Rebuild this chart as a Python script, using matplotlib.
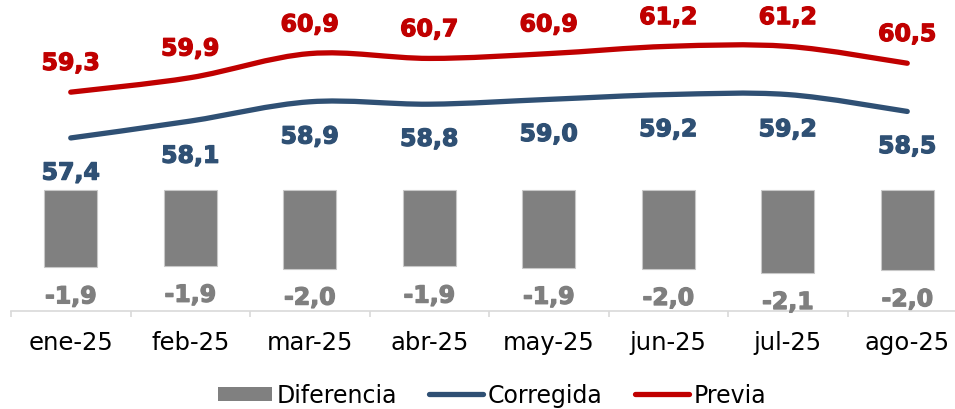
import numpy as np
import matplotlib.pyplot as plt
import matplotlib.patheffects as pe
from matplotlib.path import Path
from matplotlib.patches import PathPatch, Patch
from matplotlib.lines import Line2D

# ── Data ──────────────────────────────────────────────────────────────────────
months = ["ene-25", "feb-25", "mar-25", "abr-25", "may-25", "jun-25", "jul-25", "ago-25"]
previa = [59.3, 59.9, 60.9, 60.7, 60.9, 61.2, 61.2, 60.5]
corregida = [57.4, 58.1, 58.9, 58.8, 59.0, 59.2, 59.2, 58.5]
diferencia = [-1.93, -1.89, -1.96, -1.91, -1.94, -1.97, -2.07, -2.00]

RED = "#C00000"
BLUE = "#2F5074"
GRAY = "#808080"
LABEL_GRAY = "#7F7F7F"
AXIS_GRAY = "#D9D9D9"
FONT = "DejaVu Sans"


def fmt(v):
    return f"{v:.1f}".replace(".", ",")


def smooth_path(xs, ys):
    # Excel-like smoothed line: Catmull-Rom segments as cubic Bezier curves
    pts = np.column_stack([xs, ys]).astype(float)
    n = len(pts)
    verts = [pts[0]]
    codes = [Path.MOVETO]
    for i in range(n - 1):
        p0 = pts[max(i - 1, 0)]
        p1 = pts[i]
        p2 = pts[i + 1]
        p3 = pts[min(i + 2, n - 1)]
        verts += [p1 + (p2 - p0) / 6, p2 - (p3 - p1) / 6, p2]
        codes += [Path.CURVE4] * 3
    return Path(verts, codes)


def heavy(color):
    # fake the heavier Verdana Bold look
    return [pe.withStroke(linewidth=0.9, foreground=color)]


plt.rcParams["font.family"] = FONT
fig = plt.figure(figsize=(9.55, 4.10), dpi=100)
W, H = 955, 410
ax = fig.add_axes([11 / W, 1 - 312 / H, 956 / W, 302 / H])
ax2 = ax.twinx()

x = np.arange(len(months))

# ── Lines (primary axis) ──────────────────────────────────────────────────────
for vals, color in [(previa, RED), (corregida, BLUE)]:
    ax.add_patch(PathPatch(smooth_path(x, vals), fill=False, edgecolor=color,
                           lw=3.8, capstyle="round", joinstyle="round"))

for xi, v in zip(x, previa):
    ax.annotate(fmt(v), (xi, v), xytext=(0, 16), textcoords="offset points",
                ha="center", va="baseline", color=RED, fontsize=17,
                fontweight="bold", path_effects=heavy(RED))
for xi, v in zip(x, corregida):
    ax.annotate(fmt(v), (xi, v), xytext=(0, -30), textcoords="offset points",
                ha="center", va="baseline", color=BLUE, fontsize=17,
                fontweight="bold", path_effects=heavy(BLUE))

ax.set_xlim(-0.5, 7.5)
ax.set_ylim(50.22, 62.75)

# ── Bars (secondary axis) ─────────────────────────────────────────────────────
ax2.bar(x, diferencia, width=0.44, color=GRAY, edgecolor="#C8C8C8", linewidth=0.8)
for xi, v in zip(x, diferencia):
    ax2.annotate(fmt(v), (xi, v), xytext=(0, -26), textcoords="offset points",
                 ha="center", va="baseline", color=LABEL_GRAY, fontsize=17,
                 fontweight="bold", path_effects=heavy(LABEL_GRAY))
ax2.set_ylim(-3.017, 4.495)

# ── Axes styling ──────────────────────────────────────────────────────────────
for a in (ax, ax2):
    for s in a.spines.values():
        s.set_visible(False)
    a.set_yticks([])
ax.spines["bottom"].set_visible(True)
ax.spines["bottom"].set_color(AXIS_GRAY)
ax.spines["bottom"].set_linewidth(1.2)

ax.set_xticks(x)
ax.set_xticklabels(months, fontsize=17.5)
ax.set_xticks(np.arange(-0.5, len(months), 1), minor=True)
ax.tick_params(axis="x", which="major", length=0, pad=14, colors="black")
ax.tick_params(axis="x", which="minor", length=4.5, width=1.2, color=AXIS_GRAY)

# ── Legend ────────────────────────────────────────────────────────────────────
handles = [
    Patch(facecolor=GRAY, edgecolor="none", label="Diferencia"),
    Line2D([], [], color=BLUE, lw=3.8, solid_capstyle="round", label="Corregida"),
    Line2D([], [], color=RED, lw=3.8, solid_capstyle="round", label="Previa"),
]
fig.legend(handles=handles, loc="center", bbox_to_anchor=(492 / W, 1 - 396 / H),
           ncol=3, frameon=False, fontsize=17, handlelength=2.3,
           handleheight=0.55, handletextpad=0.2, columnspacing=1.35,
           borderpad=0, borderaxespad=0)

fig.savefig("out.png", dpi=100)
